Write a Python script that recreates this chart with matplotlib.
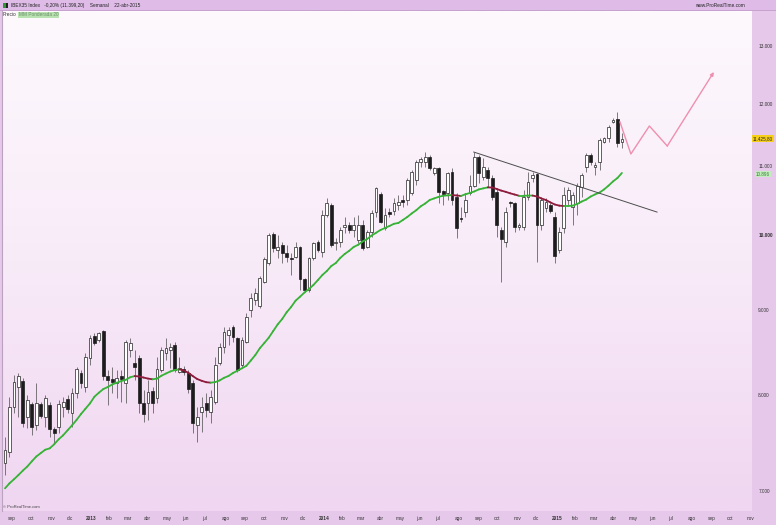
import numpy as np
import pandas as pd
import matplotlib
matplotlib.use('Agg')
import matplotlib.pyplot as plt
import matplotlib.dates as mdates
import matplotlib.transforms as mtrans
from matplotlib.collections import LineCollection
from matplotlib.patches import Rectangle
from matplotlib.colors import LinearSegmentedColormap
from matplotlib.ticker import NullLocator

# ---------------- data (weekly IBEX35, from 27-ago-2012) ----------------
start_week = '2012-08-27'
opens = [7278, 7391, 7868, 8090, 8157, 7759, 7901, 7673, 7901, 7759,
         7890, 7630, 7651, 7868, 7955, 7802, 8022, 8249, 8090, 8423,
         8684, 8636, 8745, 8214, 8180, 8134, 8214, 8134, 8517, 8365,
         8423, 7911, 7911, 8045, 7967, 8283, 8482, 8517, 8576, 8260,
         8295, 8249, 8134, 7673, 7813, 7911, 7813, 7922, 8365, 8553,
         8696, 8794, 8660, 8342, 8612, 9005, 9131, 9054, 9362, 9613,
         10009, 9789, 9857, 9748, 9680, 9694, 9830, 9402, 9259, 9680,
         9898, 9762, 10276, 10421, 9884, 9898, 10107, 10136, 10065, 9926,
         10136, 9830, 10037, 10320, 10582, 10093, 10320, 10334, 10421, 10494,
         10494, 10597, 10790, 11064, 11064, 11141, 10896, 10972, 10626, 10597,
         10911, 10538, 10234, 10320, 10597, 10700, 11141, 10836, 10941, 10820,
         10611, 10065, 9898, 10465, 10450, 10107, 10107, 10538, 10820, 10881,
         10136, 10378, 10421, 10249, 9789, 10093, 10494, 10392, 10450, 10685,
         10987, 11172, 10987, 11064, 11375, 11439, 11697, 11745, 11375]
highs = [7546, 7977, 8226, 8249, 8191, 8000, 7922, 8134, 7922, 8000,
         7922, 7651, 7944, 7977, 8000, 8078, 8318, 8283, 8482, 8696,
         8720, 8733, 8757, 8283, 8318, 8283, 8283, 8636, 8660, 8517,
         8458, 8056, 8168, 8090, 8435, 8553, 8660, 8600, 8612, 8435,
         8330, 8283, 8168, 7868, 7977, 8022, 8056, 8435, 8600, 8794,
         8794, 8818, 8672, 8672, 8967, 9220, 9285, 9440, 9694, 10023,
         10037, 9995, 9898, 9857, 9748, 9898, 9843, 9414, 9694, 9898,
         9926, 10349, 10523, 10450, 9953, 10107, 10249, 10178, 10249, 10276,
         10206, 10065, 10349, 10685, 10611, 10378, 10378, 10523, 10567, 10567,
         10820, 10941, 11095, 11141, 11218, 11172, 10987, 10987, 10641, 10911,
         10972, 10597, 10392, 10597, 10866, 11218, 11172, 11126, 10987, 10866,
         10670, 10107, 10392, 10479, 10465, 10164, 10641, 10911, 10911, 10896,
         10538, 10523, 10450, 10320, 10107, 10685, 10685, 10611, 10745, 10896,
         11203, 11203, 11064, 11439, 11455, 11648, 11762, 11860, 11520]
lows = [7157, 7339, 7802, 7759, 7651, 7641, 7567, 7620, 7748, 7651,
        7546, 7483, 7588, 7759, 7802, 7651, 7967, 8078, 8034, 8342,
        8576, 8612, 8168, 7890, 8022, 7967, 7922, 7911, 8435, 8168,
        7802, 7705, 7727, 7802, 7911, 8260, 8400, 8306, 8260, 8249,
        8226, 8022, 7588, 7494, 7599, 7759, 7694, 7900, 8342, 8482,
        8576, 8612, 8260, 8318, 8600, 8917, 9067, 9030, 9349, 9586,
        9762, 9680, 9613, 9627, 9454, 9680, 9259, 9233, 9233, 9654,
        9762, 9694, 10249, 9830, 9789, 9830, 10023, 10023, 9967, 9884,
        9789, 9816, 9967, 10249, 10164, 10065, 10249, 10276, 10349, 10392,
        10421, 10567, 10715, 10987, 10987, 10941, 10866, 10450, 10421, 10494,
        10421, 9953, 10178, 10249, 10567, 10685, 10745, 10790, 10685, 10494,
        9967, 9362, 9830, 10392, 10037, 10065, 10065, 10494, 10760, 9627,
        10065, 10320, 10305, 9613, 9748, 10023, 10421, 10136, 10276, 10538,
        10911, 11018, 10866, 10941, 11359, 11375, 11680, 11297, 11281]
closes = [7411, 7868, 8145, 8214, 7694, 7944, 7651, 7911, 7770, 7967,
          7630, 7588, 7901, 7922, 7846, 8022, 8295, 8134, 8435, 8660,
          8600, 8720, 8214, 8168, 8145, 8191, 8180, 8612, 8600, 8318,
          7911, 7792, 8034, 7911, 8295, 8517, 8541, 8553, 8283, 8306,
          8260, 8067, 7694, 7759, 7868, 7835, 7977, 8342, 8553, 8733,
          8757, 8672, 8283, 8636, 8917, 9156, 9220, 9414, 9667, 9995,
          9816, 9830, 9748, 9694, 9667, 9830, 9402, 9259, 9680, 9884,
          9789, 10276, 10450, 9857, 9898, 10065, 10136, 10065, 10136, 10136,
          9816, 10037, 10305, 10670, 10178, 10276, 10291, 10450, 10465, 10465,
          10790, 10911, 11064, 11110, 11141, 10972, 10972, 10611, 10582, 10896,
          10494, 10093, 10220, 10494, 10700, 11141, 10896, 10987, 10820, 10538,
          10136, 9940, 10320, 10450, 10107, 10136, 10538, 10760, 10866, 10136,
          10494, 10465, 10334, 9708, 10037, 10567, 10641, 10567, 10700, 10866,
          11172, 11064, 11018, 11407, 11439, 11616, 11729, 11359, 11426]
# weighted moving average (20)
ma20 = [7026, 7075, 7115, 7157, 7202, 7243, 7295, 7344, 7379, 7414,
        7428, 7470, 7522, 7564, 7617, 7670, 7727, 7791, 7849, 7907,
        7981, 8026, 8067, 8090, 8119, 8138, 8157, 8171, 8200, 8214,
        8209, 8197, 8185, 8177, 8185, 8218, 8243, 8267, 8283, 8291,
        8278, 8252, 8214, 8180, 8160, 8144, 8139, 8145, 8164, 8194,
        8215, 8249, 8275, 8303, 8332, 8394, 8458, 8538, 8600, 8664,
        8745, 8826, 8892, 8976, 9042, 9122, 9173, 9227, 9272, 9324,
        9388, 9454, 9507, 9573, 9613, 9681, 9735, 9778, 9830, 9860,
        9905, 9940, 9987, 10026, 10065, 10093, 10121, 10152, 10164, 10206,
        10249, 10300, 10346, 10402, 10443, 10494, 10517, 10540, 10556, 10562,
        10567, 10560, 10553, 10578, 10597, 10620, 10650, 10665, 10680, 10677,
        10656, 10632, 10614, 10592, 10574, 10556, 10556, 10558, 10559, 10545,
        10516, 10494, 10459, 10428, 10412, 10406, 10406, 10412, 10436, 10471,
        10500, 10544, 10576, 10603, 10649, 10705, 10768, 10820, 10896]

trend_dates = ['2014-08-31', '2015-06-14']
trend_prices = [11218, 10319]
proj_dates = ['2015-04-17', '2015-05-04', '2015-06-02', '2015-06-30', '2015-09-11']
proj_prices = [11697, 11187, 11632, 11313, 12540]

ytick_values = [7000, 8000, 9000, 10000, 11000, 12000, 13000]
ytick_labels = ['7.000', '8.000', '9.000', '10.000', '11.000', '12.000', '13.000']
month_names = ['ene', 'feb', 'mar', 'abr', 'may', 'jun', 'jul', 'ago', 'sep', 'oct', 'nov', 'dic']
last_price_label = '11.425,80'
last_price = 11425.8
ma_label = '10.896'
title_text = 'IBEX35 Index   -0,20% (11.399,20)    Semanal    22-abr-2015'

# ---------------- figure ----------------
W, H = 776, 525
FONT = 'Liberation Sans'
fig = plt.figure(figsize=(W / 100, H / 100), dpi=100, facecolor='#e6c8ea')

left_px, right_px, top_px, bot_px = 2, 752, 11, 511
rect = [left_px / W, 1 - bot_px / H, (right_px - left_px) / W, (bot_px - top_px) / H]

bg = fig.add_axes(rect, zorder=0)
grad = np.linspace(0, 1, 256).reshape(-1, 1)
cmap = LinearSegmentedColormap.from_list('bg', ['#fdf9fd', '#f8ebf8', '#f0d6f1'])
bg.imshow(grad, aspect='auto', cmap=cmap, extent=[0, 1, 0, 1], origin='upper')
bg.set_axis_off()

ax = fig.add_axes(rect, zorder=1)
ax.patch.set_alpha(0)

dates = pd.date_range(start_week, periods=len(closes), freq='7D')
x = mdates.date2num(dates)
O = np.array(opens, float); Hh = np.array(highs, float)
L = np.array(lows, float); C = np.array(closes, float)

ax.set_yscale('log')
ax.set_ylim(6808, 13650)
x0 = mdates.date2num(pd.Timestamp(start_week))
ax.set_xlim(x0 - 4.7, x0 + 1169.7)

# wicks
ax.vlines(x, L, Hh, color='#4a4a4a', lw=0.5, zorder=2)
up = C >= O
bw = 4.4
ax.bar(x[up], (C - O)[up], bottom=O[up], width=bw, facecolor='white',
       edgecolor='#222222', lw=0.5, zorder=3)
ax.bar(x[~up], (O - C)[~up], bottom=C[~up], width=bw, facecolor='#1c1c1c',
       edgecolor='#1c1c1c', lw=0.5, zorder=3)

# moving average coloured by slope
ma = np.array(ma20, float)
pts = np.column_stack([x, ma])
segs = np.stack([pts[:-1], pts[1:]], axis=1)
cols = ['#8e1b3c' if ma[i + 1] < ma[i] else '#36b336' for i in range(len(ma) - 1)]
ax.add_collection(LineCollection(segs, colors=cols, linewidths=1.3, zorder=4,
                                 capstyle='round', joinstyle='round'))

# trendline
td = mdates.date2num(pd.to_datetime(trend_dates))
ax.plot(td, trend_prices, color='#4d4d4d', lw=0.7, zorder=4)

# projection
pdx = mdates.date2num(pd.to_datetime(proj_dates))
pink = '#ef8fae'
ax.plot(pdx[:-1], proj_prices[:-1], color=pink, lw=1.0, zorder=4)
ax.annotate('', xy=(pdx[-1], proj_prices[-1]), xytext=(pdx[-2], proj_prices[-2]),
            arrowprops=dict(arrowstyle='-|>', color=pink, lw=1.0, mutation_scale=5,
                            shrinkA=0, shrinkB=0), zorder=4)

# axes styling
for s in ['top', 'right', 'bottom']:
    ax.spines[s].set_visible(False)
ax.spines['left'].set_color('#b9a3be')
ax.spines['left'].set_linewidth(0.8)

ax.yaxis.tick_right()
ax.set_yticks(ytick_values)
ax.set_yticklabels(ytick_labels)
ax.yaxis.set_minor_locator(NullLocator())
ax.tick_params(axis='y', length=0, pad=4.5, labelsize=3.4, labelcolor='#333333')
for lbl in ax.get_yticklabels():
    lbl.set_family(FONT)
    if lbl.get_text() == '10.000':
        lbl.set_fontweight('bold')

months = pd.date_range('2012-09-01', '2015-11-01', freq='MS')
mlabels = [str(d.year) if d.month == 1 else month_names[d.month - 1] for d in months]
ax.set_xticks(mdates.date2num(months))
ax.set_xticklabels(mlabels)
ax.xaxis.set_minor_locator(NullLocator())
ax.tick_params(axis='x', length=0, pad=3.5, labelsize=3.4, labelcolor='#333333')
for lbl in ax.get_xticklabels():
    lbl.set_family(FONT)
    lbl.set_ha('left')
    if lbl.get_text().isdigit():
        lbl.set_fontweight('bold')

# header bar
fig.patches.append(Rectangle((0, 1 - 10 / H), 1, 10 / H, transform=fig.transFigure,
                             facecolor='#dfbce8', edgecolor='none', zorder=5))
fig.patches.append(Rectangle((0, 1 - 11 / H), 1, 1 / H, transform=fig.transFigure,
                             facecolor='#c7a2cf', edgecolor='none', zorder=5))
fig.patches.append(Rectangle((3 / W, 1 - 8 / H), 3 / W, 5 / H, transform=fig.transFigure,
                             facecolor='#2f9a35', edgecolor='none', zorder=6))
fig.patches.append(Rectangle((6 / W, 1 - 8 / H), 2 / W, 5 / H, transform=fig.transFigure,
                             facecolor='#222222', edgecolor='none', zorder=6))

def ftext(px, py, s, **kw):
    kw.setdefault('fontsize', 3.4)
    kw.setdefault('family', FONT)
    kw.setdefault('va', 'center')
    kw.setdefault('color', '#222222')
    return fig.text(px / W, 1 - py / H, s, zorder=7, **kw)

ftext(11, 5, title_text)
ftext(745, 5.5, 'www.ProRealTime.com', ha='right')
ftext(3, 15, 'Precio', color='#333333')
ftext(19, 15, 'MM Ponderada 20', color='#6a8f66',
      bbox=dict(boxstyle='square,pad=0.15', facecolor='#b8e2b0', edgecolor='none'))
ftext(3, 507, '\u00a9 ProRealTime.com', fontsize=3.0, color='#444444')

# right-panel value boxes
bt = mtrans.blended_transform_factory(fig.transFigure, ax.transData)
ax.text(763 / W, last_price, last_price_label, transform=bt, ha='center', va='center',
        fontsize=3.3, family=FONT, color='#222222', clip_on=False, zorder=8,
        bbox=dict(boxstyle='square,pad=0.2', facecolor='#f6cf1a', edgecolor='none'))
ax.text(763 / W, ma[-1] * 0.9985, ma_label, transform=bt, ha='center', va='center',
        fontsize=3.3, family=FONT, color='#2e7d2e', clip_on=False, zorder=8,
        bbox=dict(boxstyle='square,pad=0.2', facecolor='#c5ecc0', edgecolor='none'))

fig.savefig('out.png', dpi=100, facecolor=fig.get_facecolor())
